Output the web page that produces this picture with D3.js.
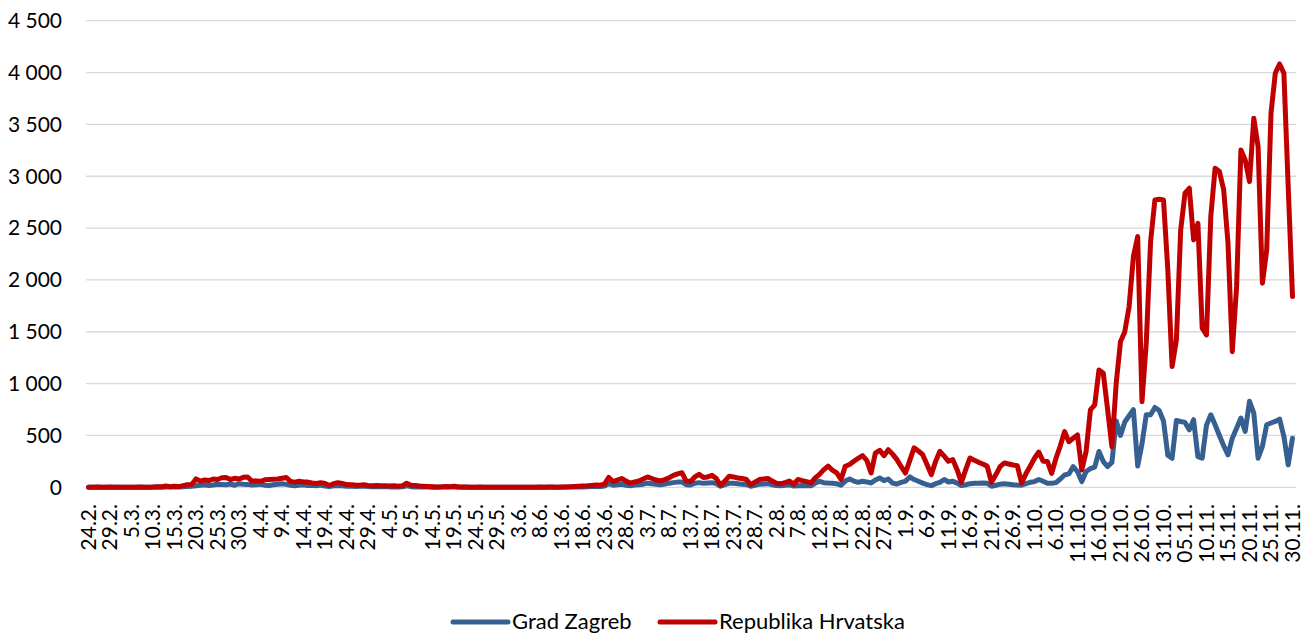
<!DOCTYPE html>
<html lang="hr">
<head>
	<meta charset="UTF-8">
	<title>Grad Zagreb / Republika Hrvatska</title>
	<script src="https://d3js.org/d3.v7.min.js"></script>
	<style>
		body, html {
			margin: 0;
			padding: 0;
			background: #fff;
			overflow: hidden;
		}
		svg { display: block; }
		text {
			font-family: Lato, "Open Sans", sans-serif;
			font-size: 21px;
			fill: #000;
		}
		.legend text { font-size: 22px; }
		.grid line { stroke: #d9d9d9; stroke-width: 1.3; }
		.series { fill: none; stroke-width: 5; stroke-linejoin: round; stroke-linecap: round; }
	</style>
</head>
<body>
<div id="chart"></div>
<script>
	// daily values 24.2. - 30.11., one line per month
	const zagreb = [].concat(
		[0, 0, 0, 0, 0, 0],
		[0, 0, 0, 0, 0, 0, 1, 0, 0, 1, 2, 1, 3, 2, 4, 3, 6, 8, 10, 15, 20, 25, 18, 22, 30, 28, 25, 32, 20, 35, 30],
		[28, 22, 25, 30, 20, 18, 25, 30, 35, 28, 20, 15, 22, 25, 18, 20, 15, 22, 12, 8, 15, 18, 14, 10, 12, 8, 10, 12, 8, 6],
		[6, 5, 8, 4, 6, 3, 5, 15, 6, 4, 3, 2, 2, 1, 1, 2, 3, 2, 3, 1, 1, 0, 1, 0, 0, 1, 0, 0, 1, 0, 0],
		[0, 0, 0, 0, 1, 0, 0, 1, 0, 1, 1, 0, 1, 2, 2, 3, 5, 4, 6, 8, 10, 8, 12, 35, 20, 25, 30, 20, 15, 22],
		[25, 30, 40, 35, 30, 25, 32, 40, 45, 50, 52, 25, 22, 40, 45, 38, 42, 45, 35, 10, 25, 40, 38, 35, 30, 28, 10, 20, 30, 32, 35],
		[25, 18, 15, 20, 25, 12, 16, 18, 15, 14, 40, 58, 45, 42, 40, 35, 20, 60, 80, 60, 48, 58, 52, 42, 70, 90, 64, 80, 40, 32, 48],
		[60, 100, 75, 58, 40, 26, 16, 35, 48, 75, 51, 58, 40, 16, 25, 35, 40, 38, 42, 40, 10, 20, 30, 35, 30, 25, 22, 20, 35, 48],
		[55, 75, 58, 39, 40, 45, 80, 119, 129, 200, 152, 55, 152, 180, 194, 345, 248, 200, 240, 640, 500, 630, 690, 748, 205, 420, 700, 700, 770, 740, 640],
		[310, 280, 645, 635, 626, 555, 652, 296, 281, 600, 700, 603, 500, 400, 313, 474, 570, 668, 539, 829, 716, 281, 394, 603, 620, 635, 658, 490, 216, 474]
	);

	const hrvatska = [].concat(
		[0, 1, 2, 0, 0, 2],
		[1, 0, 0, 1, 1, 1, 3, 0, 1, 2, 5, 5, 12, 6, 11, 7, 16, 24, 26, 81, 60, 70, 65, 80, 75, 92, 95, 75, 87, 80, 96],
		[100, 60, 62, 58, 72, 75, 78, 80, 88, 95, 55, 50, 58, 52, 50, 42, 37, 45, 36, 17, 35, 45, 38, 26, 25, 22, 20, 24, 18, 15],
		[17, 14, 16, 12, 15, 10, 14, 40, 20, 18, 12, 10, 8, 6, 3, 4, 8, 6, 10, 5, 3, 2, 1, 0, 2, 1, 1, 0, 1, 0, 1],
		[0, 1, 0, 1, 0, 1, 0, 2, 1, 2, 2, 1, 3, 4, 5, 8, 10, 12, 14, 18, 22, 20, 30, 95, 55, 70, 85, 60, 40, 52],
		[60, 80, 100, 85, 70, 62, 75, 90, 115, 130, 141, 60, 55, 100, 125, 95, 100, 115, 85, 20, 60, 107, 100, 90, 85, 75, 25, 50, 75, 80, 85],
		[60, 40, 35, 45, 60, 30, 75, 65, 55, 42, 90, 125, 170, 205, 165, 140, 75, 203, 220, 251, 280, 305, 260, 138, 330, 357, 305, 363, 320, 267, 200],
		[138, 260, 380, 350, 315, 220, 122, 250, 347, 300, 251, 267, 170, 48, 170, 283, 260, 241, 225, 203, 48, 120, 200, 235, 225, 215, 209, 42, 130, 203],
		[280, 340, 251, 250, 134, 280, 400, 537, 440, 473, 505, 167, 344, 746, 794, 1132, 1100, 750, 392, 1000, 1405, 1501, 1743, 2225, 2418, 826, 1400, 2370, 2771, 2778, 2771],
		[2100, 1164, 1421, 2482, 2836, 2884, 2386, 2546, 1534, 1469, 2611, 3077, 3045, 2868, 2353, 1308, 1935, 3253, 3157, 2948, 3559, 3286, 1968, 2289, 3607, 3993, 4083, 3993, 2900, 1839]
	);

	// one label every 5 days
	const dateLabels = [
		"24.2.", "29.2.", "5.3.", "10.3.", "15.3.", "20.3.", "25.3.", "30.3.",
		"4.4.", "9.4.", "14.4.", "19.4.", "24.4.", "29.4.",
		"4.5.", "9.5.", "14.5.", "19.5.", "24.5.", "29.5.",
		"3.6.", "8.6.", "13.6.", "18.6.", "23.6.", "28.6.",
		"3.7.", "8.7.", "13.7.", "18.7.", "23.7.", "28.7.",
		"2.8.", "7.8.", "12.8.", "17.8.", "22.8.", "27.8.",
		"1.9.", "6.9.", "11.9.", "16.9.", "21.9.", "26.9.",
		"1.10.", "6.10.", "11.10.", "16.10.", "21.10.", "26.10.", "31.10.",
		"05.11.", "10.11.", "15.11.", "20.11.", "25.11.", "30.11."
	];
	const labelStep = 5;

	const yTicks = [0, 500, 1000, 1500, 2000, 2500, 3000, 3500, 4000, 4500];

	const seriesNames = ["Grad Zagreb", "Republika Hrvatska"];
	const seriesColors = ["#376092", "#c00000"];

	const width = 1304;
	const height = 633;

	const svg = d3.select("#chart")
		.append("svg")
		.attr("width", width)
		.attr("height", height);

	const x = d3.scaleLinear()
		.domain([0, hrvatska.length - 1])
		.range([88.5, 1292.5]);

	const y = d3.scaleLinear()
		.domain([0, 4500])
		.range([487.3, 20.7]);

	// horizontal grid
	const grid = svg.append("g").attr("class", "grid");
	grid.selectAll("line")
		.data(yTicks)
		.enter()
		.append("line")
		.attr("x1", 86)
		.attr("x2", 1296)
		.attr("y1", d => y(d))
		.attr("y2", d => y(d));

	// y labels with space as thousands separator
	const fmt = d3.formatLocale({ decimal: ",", thousands: " ", grouping: [3], currency: ["", ""] }).format(",d");
	svg.append("g")
		.selectAll("text")
		.data(yTicks)
		.enter()
		.append("text")
		.attr("x", 62)
		.attr("y", d => y(d))
		.attr("dy", "0.35em")
		.attr("text-anchor", "end")
		.text(d => fmt(d));

	// rotated date labels
	svg.append("g")
		.selectAll("text")
		.data(dateLabels)
		.enter()
		.append("text")
		.attr("transform", (d, i) => `translate(${x(i * labelStep)},504) rotate(-90)`)
		.attr("dy", "0.35em")
		.attr("text-anchor", "end")
		.text(d => d);

	const line = d3.line()
		.x((d, i) => x(i))
		.y(d => y(d));

	[zagreb, hrvatska].forEach((values, k) => {
		svg.append("path")
			.datum(values)
			.attr("class", "series")
			.attr("stroke", seriesColors[k])
			.attr("d", line);
	});

	// legend
	const legendX = [453, 660];
	const legend = svg.append("g").attr("class", "legend");
	seriesNames.forEach((name, k) => {
		legend.append("line")
			.attr("x1", legendX[k])
			.attr("x2", legendX[k] + 55)
			.attr("y1", 622)
			.attr("y2", 622)
			.attr("stroke", seriesColors[k])
			.attr("stroke-width", 5)
			.attr("stroke-linecap", "round");
		legend.append("text")
			.attr("x", legendX[k] + 59)
			.attr("y", 629)
			.text(name);
	});
</script>
</body>
</html>
